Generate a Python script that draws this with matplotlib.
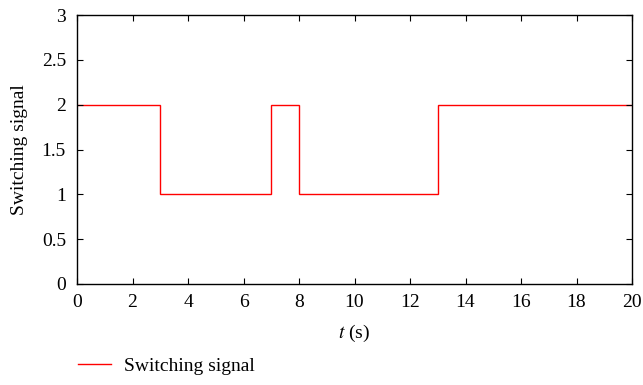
import numpy as np
import matplotlib.pyplot as plt

plt.rcParams['font.family'] = ['Liberation Serif', 'DejaVu Serif']
plt.rcParams['mathtext.fontset'] = 'stix'

# switching instants and modes
t_edges = [0, 3, 7, 8, 13, 20]
modes = [2, 1, 2, 1, 2]

x_ticks = [0, 2, 4, 6, 8, 10, 12, 14, 16, 18, 20]
y_ticks = [0, 0.5, 1, 1.5, 2, 2.5, 3]

fig = plt.figure(figsize=(6.43, 3.85), dpi=100)
ax = fig.add_axes([77 / 643, 1 - 284 / 385, (632 - 77) / 643, (284 - 15) / 385])

ax.stairs(modes, t_edges, baseline=None, color='red', linewidth=1.0, label='Switching signal')

ax.set_xlim(0, 20)
ax.set_ylim(0, 3)
ax.set_xticks(x_ticks)
ax.set_yticks(y_ticks)
ax.set_yticklabels(['0', '0.5', '1', '1.5', '2', '2.5', '3'])
ax.tick_params(direction='in', top=True, right=True, length=4, labelsize=14, width=0.8)
ax.tick_params(axis='x', pad=7)
ax.tick_params(axis='y', pad=8)
for s in ax.spines.values():
    s.set_linewidth(1.0)
ax.set_xlabel('$t$ (s)', fontsize=14, labelpad=9)
ax.set_ylabel('Switching signal', fontsize=14, labelpad=10)

h, l = ax.get_legend_handles_labels()
fig.legend(h, l, loc='center left', bbox_to_anchor=(60 / 643, 1 - 366 / 385),
           frameon=False, fontsize=14, handlelength=1.7, handletextpad=0.7)

fig.savefig('out.png', dpi=100)
